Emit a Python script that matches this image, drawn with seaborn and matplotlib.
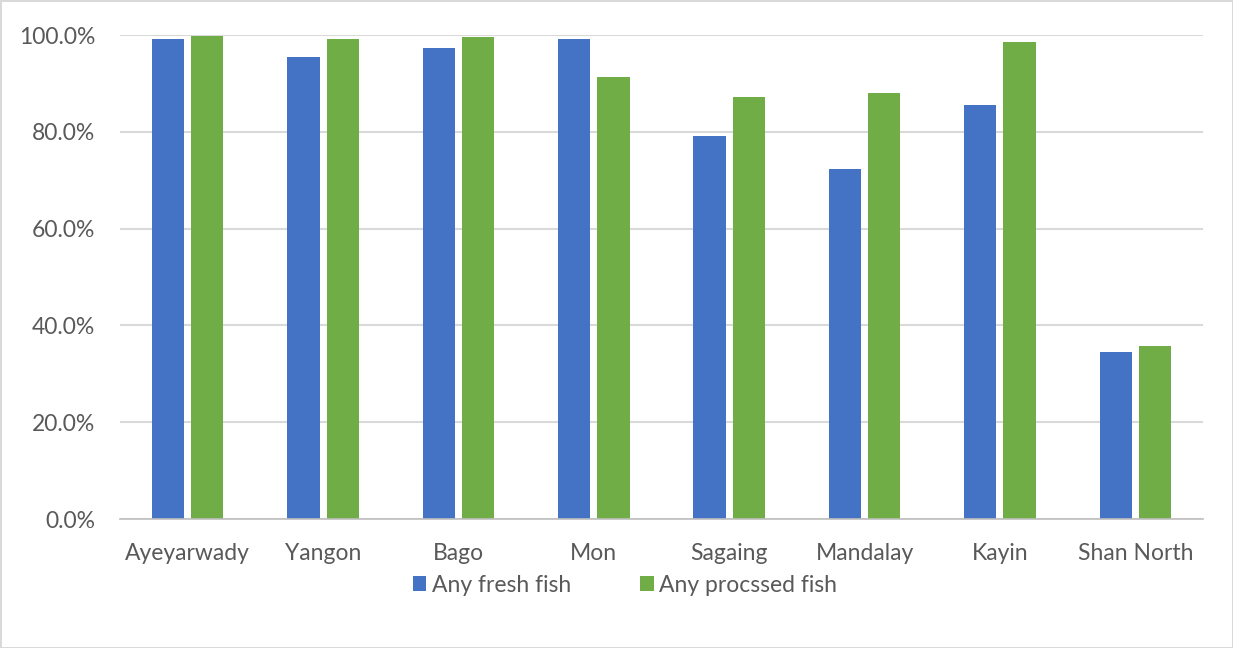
import numpy as np
import pandas as pd
import seaborn as sns
import matplotlib.pyplot as plt
from matplotlib.ticker import PercentFormatter, FixedLocator

regions = ["Ayeyarwady", "Yangon", "Bago", "Mon", "Sagaing", "Mandalay", "Kayin", "Shan North"]
fresh = [99.2, 95.5, 97.3, 99.2, 79.1, 72.3, 85.5, 34.6]
processed = [99.8, 99.2, 99.5, 91.3, 87.1, 88.0, 98.5, 35.7]
series = ["Any fresh fish", "Any procssed fish"]
colors = ["#4472C4", "#70AD47"]

df = pd.DataFrame({
    "region": regions * 2,
    "value": fresh + processed,
    "series": [series[0]] * len(regions) + [series[1]] * len(regions),
})

sns.set_style("white")
plt.rcParams['font.family'] = ['Lato', 'DejaVu Sans']

fig = plt.figure(figsize=(12.33, 6.48), dpi=100)
ax = fig.add_axes([120/1233, 1-519/648, (1203-120)/1233, (519-35)/648])

sns.barplot(data=df, x="region", y="value", hue="series", palette=colors,
            width=0.58, gap=0.18, ax=ax, edgecolor="none", saturation=1)

ax.set_ylim(0, 100)
ax.set_xlim(-0.5, len(regions) - 0.5)
ax.set_yticks([0, 20, 40, 60, 80, 100])
ax.yaxis.set_major_formatter(PercentFormatter(decimals=1))
ax.yaxis.grid(True, color="#D9D9D9", linewidth=1.5)
ax.set_axisbelow(True)
for s in ["top", "right", "left"]:
    ax.spines[s].set_visible(False)
ax.spines["bottom"].set_color("#BFBFBF")
ax.spines["bottom"].set_linewidth(1.2)

ax.xaxis.set_minor_locator(FixedLocator(np.arange(-0.5, len(regions), 1.0)))
ax.tick_params(axis="x", which="minor", length=9, color="#BFBFBF", width=1.2)
ax.tick_params(axis="x", which="major", length=0, pad=17, labelsize=16.5, labelcolor="#595959")
ax.tick_params(axis="y", length=0, pad=18, labelsize=16.5, labelcolor="#595959")
ax.set_xlabel("")
ax.set_ylabel("")

ax.legend(loc="center", bbox_to_anchor=(625/1233, 1-585/648), bbox_transform=fig.transFigure,
          ncol=2, frameon=False, fontsize=16.5, handlelength=0.6, handleheight=0.6,
          handletextpad=0.25, columnspacing=3.0, labelcolor="#595959")

fig.patch.set_edgecolor("#D9D9D9")
fig.patch.set_linewidth(2)

fig.savefig("out.png", dpi=100)
